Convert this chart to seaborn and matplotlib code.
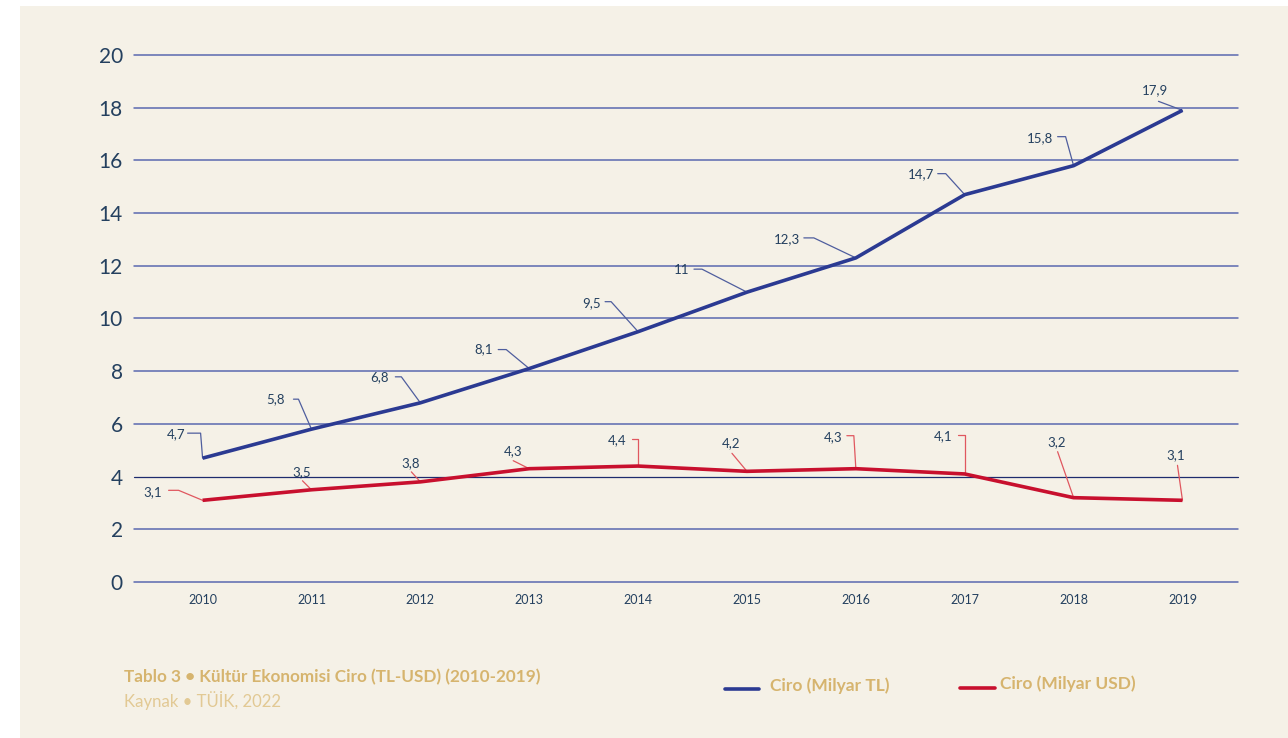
import matplotlib
matplotlib.use("Agg")
import matplotlib.pyplot as plt
import matplotlib.patches as mpatches
from matplotlib.lines import Line2D
from matplotlib.transforms import Affine2D
import seaborn as sns
import pandas as pd

# ---- data -------------------------------------------------------------
years = ["2010", "2011", "2012", "2013", "2014", "2015", "2016", "2017", "2018", "2019"]
ciro_tl = [4.7, 5.8, 6.8, 8.1, 9.5, 11.0, 12.3, 14.7, 15.8, 17.9]
ciro_usd = [3.1, 3.5, 3.8, 4.3, 4.4, 4.2, 4.3, 4.1, 3.2, 3.1]
series_names = ["Ciro (Milyar TL)", "Ciro (Milyar USD)"]
y_ticks = [0, 2, 4, 6, 8, 10, 12, 14, 16, 18, 20]
title = "Tablo 3 • Kültür Ekonomisi Ciro (TL-USD) (2010-2019)"
source = "Kaynak • TÜİK, 2022"

# ---- style ------------------------------------------------------------
sns.set_theme(style="white")
plt.rcParams["font.family"] = ["Lato", "DejaVu Sans"]

BG = "#F5F1E7"
BLUE = "#2B3A92"
RED = "#C8102E"
BLUE_LEAD = "#4F5E9E"
RED_LEAD = "#E0575F"
GRID = "#5B69B0"
TEXT = "#24405F"
GOLD = "#D6B46E"
GOLD_LIGHT = "#E2C994"

fig = plt.figure(figsize=(12.88, 7.38), dpi=100)
fig.patch.set_facecolor("white")
fig.patches.append(mpatches.Rectangle((20 / 1288, 0), 1 - 20 / 1288, 1 - 6 / 738,
                                      transform=fig.transFigure, facecolor=BG,
                                      edgecolor="none", zorder=-10))

ax = fig.add_axes([134 / 1288, 1 - 582 / 738, (1238 - 134) / 1288, (582 - 55) / 738])
ax.set_facecolor("none")

df = pd.DataFrame({
    "year": list(range(len(years))) * 2,
    "value": ciro_tl + ciro_usd,
    "series": [series_names[0]] * len(years) + [series_names[1]] * len(years),
})

ax.set_xlim(-0.63, 9.51)
ax.set_ylim(0, 20)

# horizontal reference lines
for t in y_ticks:
    if t == 4:
        ax.axhline(t, color="#1E2C6E", lw=0.9, zorder=1, clip_on=False)
    else:
        ax.axhline(t, color=GRID, lw=1.1, zorder=1, clip_on=False)

sns.lineplot(data=df, x="year", y="value", hue="series",
             palette={series_names[0]: BLUE, series_names[1]: RED},
             linewidth=2.6, legend=False, ax=ax, zorder=3,
             solid_capstyle="butt")

for s in ax.spines.values():
    s.set_visible(False)
ax.set_xlabel("")
ax.set_ylabel("")
ax.set_xticks(range(len(years)))
ax.set_xticklabels(years, fontsize=9, color=TEXT)
ax.set_yticks(y_ticks)
ax.set_yticklabels([str(t) for t in y_ticks], fontsize=15, color=TEXT)
ax.tick_params(axis="x", length=0, pad=9)
ax.tick_params(axis="y", length=0, pad=8)
ax.grid(False)

# ---- value labels with leader lines ------------------------------------
# (text offset dx, dy in pixels, leader vertices relative to point)
tl_labels = [
    ((-27, 24), [(-15, 25), (-2, 25), (0, 0)]),
    ((-36, 30), [(-18, 30), (-13, 30), (0, 0)]),
    ((-41, 26), [(-25, 26), (-19, 26), (0, 0)]),
    ((-46, 19), [(-31, 19), (-23, 19), (0, 0)]),
    ((-47, 29), [(-33, 30), (-27, 30), (0, 0)]),
    ((-65, 22), [(-53, 23), (-45, 23), (0, 0)]),
    ((-69, 19), [(-52, 20), (-42, 20), (0, 0)]),
    ((-44, 20), [(-27, 21), (-19, 21), (0, 0)]),
    ((-34, 28), [(-16, 29), (-8, 29), (0, 0)]),
    ((-27, 20), [(-24, 9), (0, 0)]),
]
usd_labels = [
    ((-50, 8), [(-34, 10), (-24, 10), (0, 0)]),
    ((-10, 18), [(-9, 9), (0, 0)]),
    ((-10, 19), [(-9, 10), (0, 0)]),
    ((-16, 18), [(-16, 8), (0, 0)]),
    ((-21, 26), [(-6, 27), (0, 27), (0, 0)]),
    ((-16, 28), [(-15, 18), (0, 0)]),
    ((-23, 32), [(-9, 33), (-2, 33), (0, 0)]),
    ((-22, 38), [(-7, 39), (0, 39), (0, 0)]),
    ((-17, 56), [(-16, 46), (0, 0)]),
    ((-7, 45), [(-5, 35), (0, 0)]),
]


def fmt(v):
    return (f"{v:.1f}".rstrip("0").rstrip(".")).replace(".", ",")


def label_series(values, specs, lead_color):
    for i, (v, ((dx, dy), leader)) in enumerate(zip(values, specs)):
        px, py = ax.transData.transform((i, v))
        ax.annotate(fmt(v), xy=(i, v), xytext=(dx, dy), textcoords="offset pixels",
                    ha="center", va="center", fontsize=9.5, color=TEXT, zorder=5)
        xs = [p[0] for p in leader]
        ys = [p[1] for p in leader]
        ax.add_line(Line2D(xs, ys, color=lead_color, lw=0.9, clip_on=False,
                           transform=Affine2D().translate(px, py), zorder=2))


label_series(ciro_tl, tl_labels, BLUE_LEAD)
label_series(ciro_usd, usd_labels, RED_LEAD)

# ---- caption and legend -------------------------------------------------
fig.text(124 / 1288, 1 - 677 / 738, title, fontsize=12.3, fontweight="bold",
         color=GOLD, ha="left", va="center")
fig.text(124 / 1288, 1 - 700 / 738, source, fontsize=12.1, color=GOLD_LIGHT,
         ha="left", va="center")

fig.lines.append(Line2D([725 / 1288, 759 / 1288], [1 - 689 / 738] * 2, color=BLUE,
                        lw=2.6, transform=fig.transFigure))
fig.text(770 / 1288, 1 - 686 / 738, series_names[0], fontsize=12.5, fontweight="bold",
         color=GOLD, ha="left", va="center")
fig.lines.append(Line2D([960 / 1288, 995 / 1288], [1 - 688 / 738] * 2, color=RED,
                        lw=2.6, transform=fig.transFigure))
fig.text(1000 / 1288, 1 - 684 / 738, series_names[1], fontsize=12.5, fontweight="bold",
         color=GOLD, ha="left", va="center")

fig.savefig("out.png", dpi=100, facecolor=fig.get_facecolor())
